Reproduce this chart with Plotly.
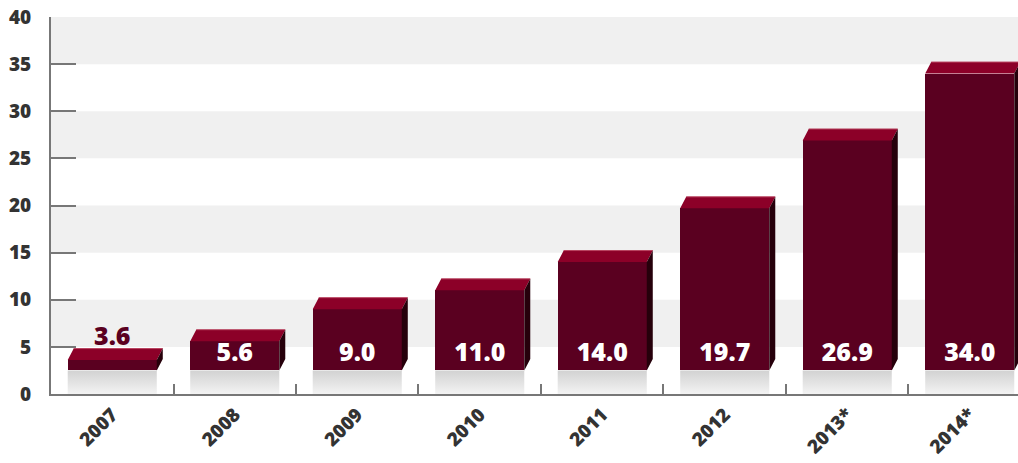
import plotly.graph_objects as go

# Data
years = ["2007", "2008", "2009", "2010", "2011", "2012", "2013*", "2014*"]
values = [3.6, 5.6, 9.0, 11.0, 14.0, 19.7, 26.9, 34.0]
y_ticks = [0, 5, 10, 15, 20, 25, 30, 35, 40]
band_ranges = [(5, 10), (15, 20), (25, 30), (35, 40)]

# Styling / geometry of the pseudo-3D bars
BASE = 2.5          # bars stand on a floor above the axis
BAR_W = 0.727       # front face width (category units)
DX = 0.049          # depth offset to the right (category units)
DY = 1.22           # depth offset upward (value units)
X_MAX = 7.394       # right end of the visible x range

FRONT = "#5a0020"
TOP = "#8c0028"
SIDE = "#26000b"
EDGE = "#b8425e"
AXIS = "#777777"
TEXT = "#333333"
FONT = "Open Sans"

fig = go.Figure()

# Front faces
fig.add_trace(go.Bar(
    x=years, y=[v - BASE for v in values], base=BASE, width=BAR_W,
    marker=dict(color=FRONT, line=dict(width=0)),
    hoverinfo="skip", showlegend=False,
))

idx = list(range(len(values)))

# Floor reflection under each bar
rx, ry = [], []
for i in idx:
    x0, x1 = i - BAR_W / 2, i + BAR_W / 2
    rx += [x0, x1, x1, x0, x0, None]
    ry += [0, 0, BASE, BASE, 0, None]
fig.add_trace(go.Scatter(
    x=rx, y=ry, xaxis="x2", mode="lines", fill="toself",
    line=dict(width=0),
    fillgradient=dict(type="vertical", start=0, stop=BASE,
                      colorscale=[[0, "#f3f3f3"], [1, "#d2d2d2"]]),
    hoverinfo="skip", showlegend=False,
))

# Top faces
tx, ty, ex, ey = [], [], [], []
for i, v in zip(idx, values):
    x0, x1 = i - BAR_W / 2, i + BAR_W / 2
    tx += [x0, x1, x1 + DX, x0 + DX, x0, None]
    ty += [v, v, v + DY, v + DY, v, None]
    ex += [x0 + DX, x1 + DX, None]
    ey += [v + DY, v + DY, None]
fig.add_trace(go.Scatter(
    x=tx, y=ty, xaxis="x2", mode="lines", fill="toself", fillcolor=TOP,
    line=dict(width=0), hoverinfo="skip", showlegend=False,
))
fig.add_trace(go.Scatter(
    x=ex, y=ey, xaxis="x2", mode="lines", line=dict(color=EDGE, width=1),
    hoverinfo="skip", showlegend=False,
))

# Side faces
sx, sy = [], []
for i, v in zip(idx, values):
    x1 = i + BAR_W / 2
    sx += [x1, x1 + DX, x1 + DX, x1, x1, None]
    sy += [BASE, BASE + DY, v + DY, v, BASE, None]
fig.add_trace(go.Scatter(
    x=sx, y=sy, xaxis="x2", mode="lines", fill="toself", fillcolor=SIDE,
    line=dict(width=0), hoverinfo="skip", showlegend=False,
))

# Value labels: inside near the floor, or above a short bar
in_x, in_y, in_t, out_x, out_y, out_t = [], [], [], [], [], []
for i, v in zip(idx, values):
    if v - BASE < 2.5:
        out_x.append(i); out_y.append(v + 2.3); out_t.append(f"{v:.1f}")
    else:
        in_x.append(i); in_y.append(BASE + 1.7); in_t.append(f"{v:.1f}")
fig.add_trace(go.Scatter(
    x=in_x, y=in_y, text=in_t, xaxis="x2", mode="text",
    textposition="middle center",
    textfont=dict(family=FONT, size=25, color="white", weight=800),
    hoverinfo="skip", showlegend=False,
))
fig.add_trace(go.Scatter(
    x=out_x, y=out_y, text=out_t, xaxis="x2", mode="text",
    textposition="middle center",
    textfont=dict(family=FONT, size=25, color=FRONT, weight=800),
    hoverinfo="skip", showlegend=False,
))

# Alternating background bands
shapes = [
    dict(type="rect", xref="paper", x0=0, x1=1, yref="y", y0=a, y1=b,
         fillcolor="#f0f0f0", line=dict(width=0), layer="below")
    for a, b in band_ranges
]

fig.update_layout(
    width=1018, height=463,
    margin=dict(l=51, r=0, t=17, b=69),
    paper_bgcolor="white", plot_bgcolor="white",
    shapes=shapes,
    bargap=0,
    xaxis=dict(
        type="category", range=[-0.5, X_MAX], automargin=False,
        tickson="boundaries", ticks="inside", ticklen=10, tickwidth=2,
        tickcolor=AXIS, showline=True, linecolor=AXIS, linewidth=2,
        showgrid=False, zeroline=False, tickangle=-45,
        tickfont=dict(family=FONT, size=19, color=TEXT, weight=800),
    ),
    xaxis2=dict(
        overlaying="x", anchor="y", range=[-0.5, X_MAX], type="linear",
        visible=False,
    ),
    yaxis=dict(
        range=[0, 40], tickvals=y_ticks, ticks="inside", ticklen=25,
        automargin=False,
        tickwidth=2, tickcolor=AXIS, showline=True, linecolor=AXIS,
        linewidth=2, showgrid=False, zeroline=False,
        ticklabelstandoff=14,
        tickfont=dict(family=FONT, size=19, color=TEXT, weight=800),
    ),
)

fig.write_html("out.html")
